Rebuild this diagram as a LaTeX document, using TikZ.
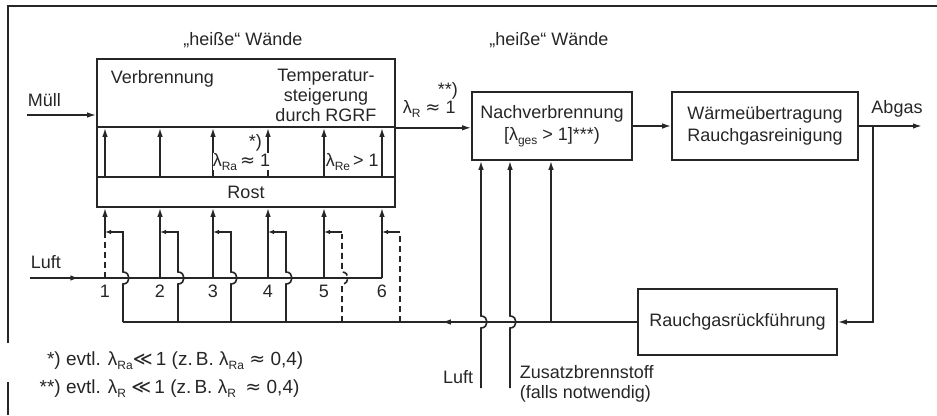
\documentclass[tikz,border=0pt]{standalone}
\usepackage{fontspec}
\setmainfont{Liberation Sans}
\newfontfamily\symfont{DejaVu Sans}
\usetikzlibrary{arrows.meta,decorations.markings}
\newcommand\lsb[1]{\raisebox{-0.45ex}{\fontsize{12}{12}\selectfont #1}}
\newcommand\approxs{{\symfont ≈}}
\begin{document}
\begin{tikzpicture}[x=1pt,y=-1pt,line width=1.6pt,color=black!85,
  every node/.style={font=\fontsize{18}{22}\selectfont},
  box/.style={draw,rectangle,inner sep=0pt,align=center},
  lbl/.style={inner sep=0pt,align=center},
  tip/.style={-{Latex[length=9pt,width=5.5pt]}},
  smalltip/.style={-{Latex[length=6pt,width=4.5pt]}},
  midarr/.style={postaction={decorate},decoration={markings,mark=at position #1 with {\arrow{Latex[length=9pt,width=5.5pt]}}}},
  dsh/.style={dash pattern=on 6pt off 4pt}]
\useasboundingbox (0,0) rectangle (937,415);

% frame
\draw[line width=1.2pt] (8,343) coordinate (fa) -- (8,6) coordinate (fb) -- (937,6) coordinate (fc);
\draw[line width=1.2pt] (8,382) coordinate (fd) -- (8,415) coordinate (fe);

% boxes
\node[box,minimum width=298pt,minimum height=68pt] (verb) at (246,93) {};
\node[box,minimum width=298pt,minimum height=50pt] (zone) at (246,152) {};
\node[box,minimum width=298pt,minimum height=30pt] (rost) at (246,192) {Rost};
\node[box,minimum width=160pt,minimum height=68pt] (nach) at (552,126) {Nachverbrennung\\{}[λ\lsb{ges} > 1]***)};
\node[box,minimum width=186pt,minimum height=68pt] (waer) at (765,126) {Wärmeübertragung\\Rauchgasreinigung};
\node[box,minimum width=199pt,minimum height=66pt] (rgr) at (737.5,322) {Rauchgasrückführung};

% labels
\node[lbl,anchor=base] (w1) at (243,45) {„heiße“ Wände};
\node[lbl,anchor=base] (w2) at (549,45) {„heiße“ Wände};
\node[lbl,anchor=base west] (muell) at (27,106) {Müll};
\node[lbl,anchor=base west] (vb) at (110,83) {Verbrennung};
\node[lbl,font=\fontsize{18}{20}\selectfont] (temp) at (326,95.5) {Temperatur-\\steigerung\\durch RGRF};
\node[lbl,anchor=base west] (lr) at (402,113) {λ\lsb{R} \approxs\ 1};
\node[lbl,anchor=base west] (lrs) at (437,95) {**)};
\node[lbl,anchor=base] (ab) at (897,113) {Abgas};
\node[lbl,anchor=base west] (lf) at (30,268) {Luft};
\node[lbl,anchor=base east] (lf2) at (474,383) {Luft};
\node[lbl,anchor=base west] (zs) at (519,378) {Zusatzbrennstoff};
\node[lbl,anchor=base west] (fn) at (519,398) {(falls notwendig)};
\node[lbl,anchor=base west,font=\fontsize{19}{22}\selectfont] (f1) at (36,365) {\makebox[24pt][r]{*)} evtl. λ\lsb{Ra}{\symfont ≪}\,1 (z.\,B. λ\lsb{Ra} \approxs\ 0,4)};
\node[lbl,anchor=base west,font=\fontsize{19}{22}\selectfont] (f2) at (36,393) {\makebox[24pt][r]{**)} evtl. λ\lsb{R} {\symfont ≪}\,1 (z.\,B. λ\lsb{R}\enspace\approxs\ 0,4)};

% Müll
\coordinate (mS) at (27,115);
\draw[tip] (mS) -- (mS -| verb.west);
% main gas line
\draw[tip] (verb.south east) -- (nach.west |- verb.south east);
\draw[tip] (nach.east) -- (waer.west);
% Abgas and recirculation
\coordinate (abE) at (922,126);
\coordinate (br) at (873,126);
\draw[tip] (waer.east) -- (abE);
\draw[tip] (br) -- (br |- rgr.east) -- (rgr.east);
\coordinate (bl) at (123,322);
\draw[midarr=0.38] (rgr.west) -- (bl);
\coordinate (rj) at (551,322);
\draw[tip] (rj) -- (rj |- nach.south);
% Luft and Zusatzbrennstoff
\coordinate (la) at (481,388);
\coordinate (za) at (510,388);
\draw[tip] (la) -- (481,328) .. controls (489,328) and (489,316) .. (481,316) -- (la |- nach.south);
\draw[tip] (za) -- (510,328) .. controls (518,328) and (518,316) .. (510,316) -- (za |- nach.south);

% Luft line
\coordinate (lS) at (30,278);
\coordinate (lE) at (382,278);
\draw[midarr=0.14] (lS) -- (lE);

% columns
\foreach \i/\x in {1/105,2/160,3/213,4/268,5/324,6/382}{
  \coordinate (c\i) at (\x,278);
  \coordinate (h\i) at (\x,232);
  \draw[tip] (c\i |- rost.north) -- (c\i |- verb.south);
}
\foreach \i in {2,...,6} \draw[tip] (c\i) -- (c\i |- rost.south);
\draw[dsh] (c1) -- (h1);
\draw[tip] (h1) -- (c1 |- rost.south);
\foreach \i/\r in {1/123,2/178,3/231,4/286}{
  \draw[smalltip] (\r,322) -- (\r,284) .. controls (\r+8,284) and (\r+8,272) .. (\r,272) -- (\r,232) -- (h\i);
}
\draw[dsh] (342,322) -- (342,284) .. controls (350,284) and (350,272) .. (342,272) -- (342,234);
\draw[smalltip] (342,232) -- (h5);
\draw[dsh] (400,322) -- (400,234);
\draw[smalltip] (400,232) -- (h6);

% zone labels (cover arrow lines)
\node[lbl,anchor=base west,fill=white] (lra) at (212,166) {λ\lsb{Ra}\,\approxs\ 1};
\node[lbl,anchor=base west] (lras) at (248,147) {*)};
\node[lbl,anchor=base west,fill=white] (lre) at (325,166) {λ\lsb{Re}\,> 1};
\foreach \i/\x in {1/105,2/160,3/213,4/268,5/324,6/382}
  \node[lbl,anchor=base] (n\i) at (\x,297) {\i};
\end{tikzpicture}
\end{document}
